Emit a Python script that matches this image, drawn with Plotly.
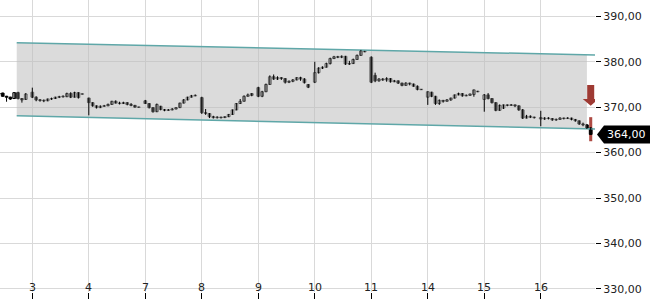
import plotly.graph_objects as go
import numpy as np

# ---------------- data ----------------
tick_labels = ["3", "4", "7", "8", "9", "10", "11", "14", "15", "16"]
day_index = [-1, 0, 1, 2, 3, 4, 5, 6, 7, 8, 9]      # -1 = previous (partial) day
day_first_slot = [6, 0, 0, 0, 0, 0, 0, 0, 0, 0, 0]
day_counts = [8, 14, 14, 14, 14, 14, 14, 14, 14, 14, 14]

opens = [
    372.9, 373.1, 372.4, 372.2, 371.9, 373.2, 371.9, 371.7,
    373.3, 372.2, 371.6, 371.5, 371.4, 371.8, 371.9, 372.2, 372.3, 372.3, 373.0, 372.2, 373.2, 372.9,
    372.0, 371.0, 370.3, 369.9, 370.2, 370.3, 370.6, 371.3, 370.9, 370.8, 371.0, 370.6, 370.4, 370.0,
    371.4, 370.8, 369.9, 369.0, 370.2, 369.5, 369.3, 369.4, 369.6, 369.9, 370.9, 371.6, 372.2, 372.5,
    372.1, 368.8, 368.6, 367.9, 367.7, 367.8, 367.7, 367.9, 368.4, 369.4, 370.8, 371.3, 372.4, 373.0,
    374.3, 372.4, 373.4, 375.0, 376.7, 376.2, 376.5, 376.3, 375.5, 375.7, 376.0, 376.5, 376.2, 375.0,
    375.5, 377.6, 378.6, 378.8, 379.6, 380.7, 381.1, 381.0, 381.2, 379.5, 379.6, 380.5, 381.4, 382.3,
    381.0, 377.0, 375.8, 376.2, 376.0, 376.3, 375.6, 375.8, 375.3, 374.8, 375.3, 375.1, 374.6, 373.9,
    372.2, 373.3, 372.4, 370.8, 371.5, 371.3, 371.6, 372.0, 372.7, 373.0, 372.5, 372.6, 372.8, 373.5,
    371.7, 372.7, 371.9, 371.0, 369.3, 369.8, 370.5, 370.4, 370.5, 370.3, 369.4, 367.6, 368.0, 367.8,
    367.7, 367.4, 367.6, 367.5, 367.2, 367.3, 367.6, 367.5, 367.6, 367.3, 367.0, 366.3, 366.1, 365.4,
]
highs = [
    373.2, 373.2, 372.5, 372.3, 373.3, 373.4, 372.0, 373.1,
    374.3, 372.4, 371.8, 371.7, 371.9, 372.1, 372.3, 372.5, 372.6, 373.2, 373.3, 373.4, 373.3, 373.0,
    372.1, 371.1, 370.4, 370.4, 370.5, 370.8, 371.4, 371.5, 371.2, 371.2, 371.1, 370.9, 370.5, 370.1,
    371.6, 370.9, 370.0, 370.8, 370.3, 369.6, 369.6, 369.8, 370.0, 371.0, 371.8, 372.3, 372.7, 372.8,
    372.3, 369.6, 368.7, 368.1, 368.0, 367.9, 368.0, 368.5, 369.5, 370.9, 371.8, 372.6, 373.0, 373.1,
    374.5, 373.6, 375.2, 377.0, 377.2, 376.8, 376.6, 376.4, 375.9, 376.2, 376.6, 376.7, 376.4, 375.1,
    380.0, 378.8, 379.0, 379.8, 380.9, 381.3, 381.3, 381.4, 381.3, 380.2, 380.7, 381.6, 382.6, 382.4,
    381.2, 377.6, 376.4, 376.4, 376.6, 376.4, 376.0, 375.9, 375.4, 375.5, 375.4, 375.2, 374.8, 374.0,
    373.5, 373.4, 372.5, 371.7, 371.6, 371.8, 372.1, 372.8, 373.2, 373.1, 372.8, 373.0, 373.9, 373.6,
    372.9, 373.1, 372.0, 371.1, 370.6, 370.6, 370.6, 370.7, 370.6, 370.4, 369.6, 368.3, 368.2, 367.9,
    369.2, 367.8, 367.8, 367.6, 367.5, 367.8, 367.7, 367.8, 367.7, 367.4, 367.1, 366.6, 366.3, 365.6,
]
lows = [
    372.7, 372.3, 371.2, 371.6, 371.8, 371.7, 371.0, 371.6,
    372.0, 371.3, 371.2, 371.1, 371.3, 371.6, 371.8, 372.0, 372.1, 372.2, 372.0, 372.1, 371.9, 372.8,
    368.2, 370.1, 369.7, 369.8, 370.1, 370.2, 370.5, 370.8, 370.6, 370.7, 370.4, 370.2, 369.9, 369.9,
    370.7, 369.7, 368.8, 368.9, 369.3, 369.1, 369.2, 369.3, 369.5, 369.8, 370.8, 371.5, 372.1, 372.4,
    368.5, 368.3, 367.6, 367.5, 367.5, 367.5, 367.6, 367.8, 368.3, 369.3, 370.7, 371.2, 372.3, 372.4,
    372.2, 372.2, 373.3, 374.9, 376.0, 376.0, 376.0, 375.2, 375.3, 375.5, 375.9, 375.8, 375.2, 374.2,
    375.3, 377.4, 378.4, 378.7, 379.4, 380.6, 380.8, 380.8, 379.3, 379.3, 379.5, 380.4, 381.3, 382.1,
    375.3, 375.5, 375.6, 375.8, 375.6, 375.4, 375.5, 375.1, 374.6, 374.7, 374.8, 374.5, 373.7, 373.8,
    370.5, 372.2, 370.5, 370.5, 371.0, 371.2, 371.4, 371.9, 372.6, 372.3, 372.4, 372.5, 372.3, 373.3,
    369.0, 371.7, 370.8, 369.1, 369.2, 369.6, 370.2, 370.3, 370.0, 369.2, 367.4, 367.5, 367.6, 367.5,
    365.8, 367.2, 367.3, 367.0, 367.0, 367.2, 367.3, 367.4, 367.1, 366.8, 366.1, 365.8, 365.2, 363.9,
]
closes = [
    373.0, 372.4, 372.2, 371.8, 373.2, 371.9, 371.6, 372.9,
    372.2, 371.6, 371.5, 371.4, 371.8, 371.9, 372.2, 372.3, 372.4, 373.0, 372.2, 373.2, 372.1, 372.9,
    371.0, 370.3, 369.9, 370.2, 370.3, 370.6, 371.3, 370.9, 370.8, 371.0, 370.6, 370.4, 370.0, 370.0,
    370.8, 369.9, 369.0, 370.6, 369.5, 369.3, 369.4, 369.6, 369.9, 370.9, 371.6, 372.2, 372.5, 372.6,
    368.8, 368.6, 367.9, 367.7, 367.8, 367.7, 367.9, 368.4, 369.4, 370.8, 371.3, 372.4, 372.7, 372.6,
    372.4, 373.4, 375.0, 376.7, 376.2, 376.5, 376.3, 375.5, 375.7, 376.0, 376.5, 376.2, 375.4, 374.4,
    377.6, 378.6, 378.8, 379.6, 380.7, 381.1, 381.0, 381.2, 379.5, 379.6, 380.5, 381.4, 382.4, 382.2,
    375.5, 375.8, 376.2, 376.0, 376.3, 375.6, 375.8, 375.3, 374.8, 375.3, 375.1, 374.6, 373.9, 373.9,
    373.4, 372.4, 370.8, 371.5, 371.3, 371.6, 372.0, 372.7, 373.0, 372.5, 372.6, 372.9, 373.8, 373.4,
    372.7, 371.9, 371.0, 369.3, 370.4, 370.5, 370.4, 370.5, 370.3, 369.4, 367.6, 368.0, 367.8, 367.7,
    367.4, 367.6, 367.5, 367.2, 367.3, 367.6, 367.5, 367.6, 367.3, 367.0, 366.3, 366.1, 365.4, 364.0,
]

# trend channel end points
channel_x = [-0.276, 9.96]
channel_upper = [384.2, 381.5]
channel_lower = [368.1, 365.2]
channel_fill_end = 9.817

# ---------------- layout constants ----------------
SLOT = 0.068
BODY_W = SLOT * 0.72
MIN_BODY = 0.12
X_RANGE = [-0.572, 9.96]
Y_RANGE = [329.3, 393.6]

xs = []
for d, s0, n in zip(day_index, day_first_slot, day_counts):
    for k in range(n):
        xs.append(d + (s0 + k) * SLOT)

fig = go.Figure()

# channel fill
fx = [channel_x[0], channel_fill_end]
fu = list(np.interp(fx, channel_x, channel_upper))
fl = list(np.interp(fx, channel_x, channel_lower))
fig.add_trace(go.Scatter(
    x=fx + fx[::-1], y=fu + fl[::-1], fill="toself", mode="none",
    fillcolor="rgba(190,190,190,0.55)", hoverinfo="skip", showlegend=False))
for arr in (channel_upper, channel_lower):
    fig.add_trace(go.Scatter(
        x=channel_x, y=arr, mode="lines",
        line=dict(color="#5fa7a8", width=1.5), hoverinfo="skip", showlegend=False))

# wicks
wx, wy = [], []
for x, h, l in zip(xs, highs, lows):
    wx += [x, x, None]
    wy += [l, h, None]
fig.add_trace(go.Scatter(x=wx, y=wy, mode="lines", line=dict(color="#000000", width=1),
                         hoverinfo="skip", showlegend=False))

# bodies
for up in (True, False):
    bx, bb, bh = [], [], []
    for x, o, c in zip(xs, opens, closes):
        if (c >= o) == up:
            lo, hi = min(o, c), max(o, c)
            if hi - lo < MIN_BODY:
                mid = (hi + lo) / 2
                lo, hi = mid - MIN_BODY / 2, mid + MIN_BODY / 2
            bx.append(x); bb.append(lo); bh.append(hi - lo)
    fig.add_trace(go.Bar(
        x=bx, y=bh, base=bb, width=BODY_W,
        marker=dict(color="#ffffff" if up else "#000000",
                    line=dict(color="#000000", width=1)),
        hoverinfo="skip", showlegend=False))

last_x = xs[-1]
last_c = closes[-1]
shapes = []
# red bar behind last candle
shapes.append(dict(type="rect", xref="x", yref="y", x0=last_x - 0.027, x1=last_x + 0.027,
                   y0=362.5, y1=367.8, fillcolor="rgba(165,55,48,0.9)", line=dict(width=0),
                   layer="between"))
# red down arrow
ax = last_x
sw, hw = 0.062, 0.14
path = (f"M {ax-sw},374.9 L {ax+sw},374.9 L {ax+sw},371.8 L {ax+hw},371.8 "
        f"L {ax},370.3 L {ax-hw},371.8 L {ax-sw},371.8 Z")
shapes.append(dict(type="path", xref="x", yref="y", path=path,
                   fillcolor="#9e3a33", line=dict(width=0), layer="above"))
# last price label box
py = (last_c - Y_RANGE[0]) / (Y_RANGE[1] - Y_RANGE[0])
h = 9 / 292
pw = 595.0
lbl = (f"M {597/pw},{py} L {604/pw},{py+h} L {650/pw},{py+h} "
       f"L {650/pw},{py-h} L {604/pw},{py-h} Z")
shapes.append(dict(type="path", xref="paper", yref="paper", path=lbl,
                   fillcolor="#000000", line=dict(width=0), layer="above"))

label_text = f"{last_c:.2f}".replace(".", ",")
fig.add_annotation(x=626 / pw, y=py, xref="paper", yref="paper", text=label_text,
                   showarrow=False, xanchor="center", yanchor="middle",
                   font=dict(color="#ffffff", size=11, family="DejaVu Sans"))

# x tick labels drawn inside the plot, just above the bottom edge
for i, t in enumerate(tick_labels):
    fig.add_annotation(x=i, y=0, xref="x", yref="paper", text=t, showarrow=False,
                       xanchor="center", yanchor="bottom", yshift=-4,
                       font=dict(color="#222222", size=11, family="DejaVu Sans"))

fig.update_layout(
    width=650, height=300,
    margin=dict(l=0, r=55, t=0, b=8),
    paper_bgcolor="#ffffff", plot_bgcolor="#ffffff",
    separators=", ",
    barmode="overlay",
    font=dict(family="DejaVu Sans", size=11, color="#222222"),
    shapes=shapes,
    showlegend=False,
    xaxis=dict(range=X_RANGE, tickmode="array", tickvals=list(range(len(tick_labels))),
               showticklabels=False, ticks="outside", ticklen=6, tickcolor="#000000",
               showgrid=True, gridcolor="#d9d9d9",
               gridwidth=1, zeroline=False, showline=False, fixedrange=True),
    yaxis=dict(range=Y_RANGE, side="right", tickmode="linear", tick0=330, dtick=10,
               tickformat=".2f", ticks="outside", ticklen=5, tickcolor="#000000",
               showgrid=True, gridcolor="#d9d9d9", gridwidth=1, zeroline=False,
               showline=False, fixedrange=True),
)

fig.write_html("out.html")
